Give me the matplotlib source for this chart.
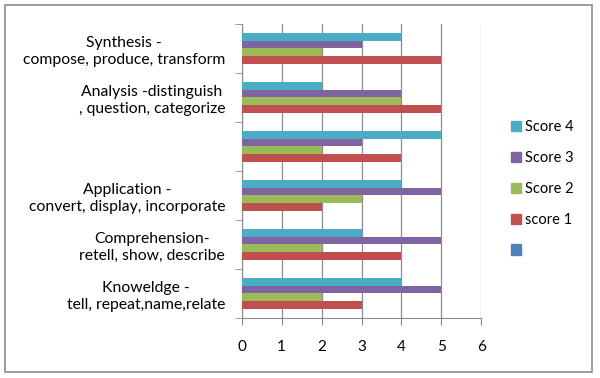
import numpy as np
import matplotlib
matplotlib.use("Agg")
import matplotlib.pyplot as plt
from matplotlib.patches import Patch, Rectangle

# categories bottom -> top
categories = [
    "Knoweldge -\ntell, repeat,name,relate",
    "Comprehension-\nretell, show, describe",
    "Application -\nconvert, display, incorporate",
    "",
    "Analysis -distinguish\n, question, categorize",
    "Synthesis -\ncompose, produce, transform",
]
score1 = [3, 4, 2, 4, 5, 5]
score2 = [2, 2, 3, 2, 4, 2]
score3 = [5, 5, 5, 3, 4, 3]
score4 = [4, 3, 4, 5, 2, 4]

series = [("score 1", score1, "#C0504D"),
          ("Score 2", score2, "#9BBB59"),
          ("Score 3", score3, "#8064A2"),
          ("Score 4", score4, "#4BACC6")]

plt.rcParams["font.family"] = ["Lato", "DejaVu Sans"]

fig = plt.figure(figsize=(6, 3.78), dpi=100)
ax = fig.add_axes([0.403, 0.159, 0.399, 0.778])

y = np.arange(len(categories))
h = 0.155
for i, (name, vals, col) in enumerate(series):
    ax.barh(y + (i - 1.5) * h, vals, height=h, color=col, zorder=3)

ax.set_xlim(0, 6)
ax.set_ylim(-0.5, len(categories) - 0.5)
ax.set_xticks(range(7))
ax.grid(axis="x", color="#8c8c8c", lw=0.9, zorder=0)
ax.tick_params(axis="x", length=5, pad=11, labelsize=11, color="#8c8c8c")

ax.set_yticks(y)
ax.set_yticklabels(categories, multialignment="center", fontsize=11.3, linespacing=1.3)
ax.tick_params(axis="y", which="major", length=0, pad=12)
ax.set_yticks(np.arange(-0.5, len(categories)), minor=True)
ax.tick_params(axis="y", which="minor", length=5, color="#8c8c8c")

for s in ["top", "right"]:
    ax.spines[s].set_visible(False)
ax.spines["left"].set_color("#8c8c8c")
ax.spines["bottom"].set_color("#8c8c8c")

handles = [Patch(color="#4BACC6", label="Score 4"),
           Patch(color="#8064A2", label="Score 3"),
           Patch(color="#9BBB59", label="Score 2"),
           Patch(color="#C0504D", label="score 1"),
           Patch(color="#4F81BD", label=" ")]
fig.legend(handles=handles, loc="center left", bbox_to_anchor=(0.829, 0.5),
           frameon=False, fontsize=10.5, handlelength=0.7, handleheight=0.7,
           handletextpad=0.3, labelspacing=1.15)

fig.add_artist(Rectangle((0.0083, 0.0159), 0.9784, 0.9709, transform=fig.transFigure,
                         fill=False, edgecolor="#8c8c8c", lw=1.2))

fig.savefig("out.png", dpi=100)
